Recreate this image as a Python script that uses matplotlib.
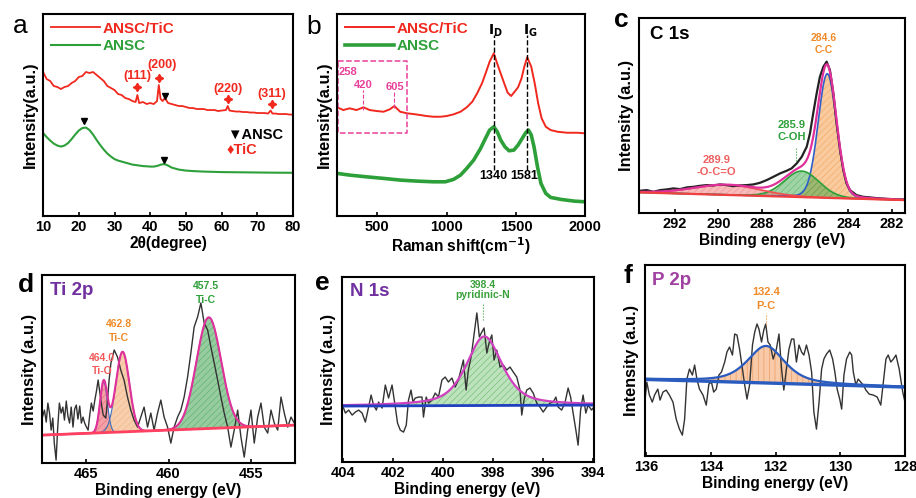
import numpy as np
import matplotlib
matplotlib.use("Agg")
import matplotlib.pyplot as plt

plt.rcParams['font.family'] = ['Liberation Sans', 'DejaVu Sans']
plt.rcParams['font.weight'] = 'bold'
plt.rcParams['hatch.linewidth'] = 0.5
plt.rcParams['mathtext.default'] = 'bf'

# ---------------- (a) XRD ----------------
xrd_tic_x = [10, 11, 12, 13, 14, 15, 16, 17, 18, 19, 20, 21, 22, 23, 24, 25, 26, 27, 28, 29,
             30, 31, 32, 33, 34, 35, 35.9, 36.4, 36.9, 38, 39, 40, 41, 41.9, 42.4, 42.9, 43.5,
             44.1, 45, 46, 47, 48, 49, 50, 51, 52, 53, 54, 55, 56, 57, 58, 59, 60, 61.2, 61.7,
             62.2, 63, 64, 65, 66, 67, 68, 69, 70, 71, 72, 73, 73.7, 74.2, 75, 76, 77, 78, 79, 80]
xrd_tic_y = [144, 137, 135, 130, 129, 127, 129, 130, 133, 135, 139, 140, 144, 143, 144, 141,
             138, 135, 130, 128, 126, 122, 121, 118, 117, 115, 114, 121, 113, 114, 112, 113,
             112, 115, 131, 117, 115, 118, 113, 112, 111, 110, 110, 109, 108, 108, 107, 107,
             107, 106, 106, 106, 105, 105.5, 106, 110, 105.5, 105, 104.5, 104.5, 104, 104,
             103.5, 103.5, 103, 103, 103, 102.5, 105.5, 102.5, 102.5, 102, 102, 102, 101.5, 101.5]
xrd_ansc_x = [10, 11, 12, 13, 14, 15, 16, 17, 18, 19, 20, 21, 22, 23, 24, 25, 26, 27, 28, 29,
              30, 31, 32, 33, 34, 35, 36, 37, 38, 39, 40, 41, 42, 43, 44, 45, 46, 47, 48, 49,
              50, 52, 55, 60, 65, 70, 75, 80]
xrd_ansc_y = [83, 79, 75.5, 72.5, 70.5, 69.5, 70.5, 73, 77, 81.5, 85.5, 88, 88.5, 86, 81.5, 76,
              71, 66.5, 62.5, 59.5, 57, 55.5, 54.5, 53.5, 52.5, 51.5, 51, 50.5, 50, 49.8, 49.5,
              49.5, 50.2, 51.5, 52, 50.5, 48.5, 47.5, 46.5, 46, 45.5, 45, 44.5, 44, 43.8, 43.6,
              43.4, 43.3]
tic_peak_x = [36.4, 42.4, 61.7, 74.0]
tic_peak_y = [128.7, 137.7, 116.7, 111.7]
tic_labels = ["(111)", "(200)", "(220)", "(311)"]
tic_label_x = [36.3, 43.3, 61.7, 74.0]
tic_label_y = [140, 151, 126.7, 121.7]
ansc_peak_x = [44.0, 21.6, 43.8]
ansc_peak_y = [120, 95.3, 56]

# ---------------- (b) Raman ----------------
raman_tic_x = [210, 255, 300, 350, 400, 445, 495, 545, 590, 623, 665, 715, 760, 810, 855, 905,
               955, 1000, 1050, 1100, 1145, 1185, 1220, 1255, 1285, 1310, 1340, 1360, 1385, 1415,
               1440, 1465, 1490, 1515, 1540, 1560, 1581, 1610, 1635, 1660, 1685, 1715, 1750,
               1800, 1870, 1945, 2000]
raman_tic_y = [108.7, 106, 107.7, 106, 108.7, 106, 105, 104.3, 106.7, 110, 104.3, 102.7, 102,
               101, 100, 99.3, 99.3, 100, 101.7, 104.3, 108.7, 114.3, 122.7, 132.7, 144.3, 154.3,
               162.7, 154.3, 144.3, 132.7, 123.3, 120, 124.3, 128.7, 137.7, 149.3, 158.7, 149.3,
               132.7, 112.7, 97.7, 89.3, 86, 84.3, 83.3, 83.3, 82.7]
raman_ansc_x = [210, 300, 420, 545, 665, 785, 905, 990, 1050, 1100, 1145, 1195, 1245, 1280,
                1310, 1340, 1365, 1390, 1420, 1450, 1485, 1515, 1545, 1570, 1590, 1610, 1630,
                1655, 1680, 1715, 1750, 1825, 1920, 2000]
raman_ansc_y = [42.7, 41, 39.3, 37.7, 36, 35, 34.3, 34.3, 36.7, 41, 47.7, 56, 67.7, 77.7, 86,
                89.3, 84.3, 76, 69.3, 65.3, 66, 71, 77.7, 83.3, 86, 81, 69.3, 49.3, 32.7, 22.7,
                18.7, 16.7, 15, 14.3]
raman_bands = [1340, 1581]
tic_raman = ["258", "420", "605"]

# ---------------- (c) C 1s ----------------
c1s_x = [293.65, 293.31, 293.0, 292.69, 292.38, 292.08, 291.77, 291.46, 291.15, 290.85, 290.54,
         290.23, 289.92, 289.62, 289.31, 289.0, 288.69, 288.38, 288.08, 287.77, 287.46, 287.15,
         286.85, 286.62, 286.38, 286.15, 285.92, 285.77, 285.62, 285.46, 285.31, 285.15, 285.0,
         284.85, 284.69, 284.54, 284.38, 284.23, 284.08, 283.92, 283.62, 283.31, 283.0, 282.69,
         282.23, 281.77, 281.38]
c1s_y = [22.3, 23, 21.3, 23, 23.7, 24.7, 24, 25.7, 26.3, 27.3, 28, 27.7, 28.7, 28, 27, 27.7, 28,
         28.7, 30.3, 33, 36.3, 39.7, 42.3, 44.7, 49.7, 56.3, 66.3, 79.7, 99.7, 119.7, 136.3,
         146.3, 151.3, 143, 119.7, 89.7, 63, 43, 29.7, 23, 18, 16.3, 15.7, 15, 14.3, 13.7, 13.7]
c1s_pos = [284.97, 286.15, 289.6]
c1s_amp = [124, 26, 10]
c1s_fwhm = [1.0, 1.9, 3.6]
c1s_names = ["284.6\nC-C", "285.9\nC-OH", "289.9\n-O-C=O"]

# ---------------- (d) Ti 2p ----------------
ti_x = [467.68, 467.56, 467.45, 467.35, 467.25, 467.15, 467.05, 466.96, 466.85, 466.75, 466.65,
        466.54, 466.44, 466.34, 466.23, 466.13, 466.03, 465.93, 465.82, 465.72, 465.62, 465.52,
        465.41, 465.31, 465.21, 465.11, 465.0, 464.90, 464.80, 464.70, 464.59, 464.49, 464.39,
        464.29, 464.18, 464.08, 463.98, 463.82, 463.72, 463.62, 463.51, 463.31, 463.11, 462.91,
        462.71, 462.50, 462.30, 462.10, 461.89, 461.69, 461.49, 461.28, 461.08, 460.88, 460.67,
        460.47, 460.27, 460.06, 459.86, 459.66, 459.45, 459.25, 459.05, 458.84, 458.64, 458.44,
        458.23, 458.03, 457.83, 457.62, 457.42, 457.22, 457.01, 456.81, 456.61, 456.40, 456.20,
        456.00, 455.79, 455.59, 455.39, 455.18, 454.98, 454.78, 454.57, 454.37, 454.17, 453.96,
        453.76, 453.56, 453.35, 453.15, 452.95, 452.74, 452.54, 452.34]
ti_y = [46, 53, 41, 60, 50, 33, 45, 20, 3, 36, 60, 50, 56, 43, 62, 47, 40, 56, 36, 54, 58, 44,
        57, 40, 46, 40, 36, 33, 48, 60, 52, 63, 72, 83, 70, 58, 48, 45, 63, 83, 100, 113, 106,
        93, 83, 66, 53, 43, 36, 46, 56, 36, 50, 33, 50, 63, 46, 36, 20, 36, 46, 53, 66, 86, 110,
        136, 146, 160, 140, 133, 116, 100, 83, 66, 50, 36, 16, 33, 53, 26, 6, 33, 53, 20, 46,
        60, 36, 30, 53, 40, 33, 66, 50, 36, 46, 40]
ti_pos = [463.95, 462.8, 457.55]
ti_amp = [51, 80, 111]
ti_fwhm = [0.52, 0.97, 1.77]
ti_names = ["464.0\nTi-O", "462.8\nTi-C", "457.5\nTi-C"]

# ---------------- (e) N 1s ----------------
n_x = [404.04, 403.92, 403.79, 403.65, 403.52, 403.39, 403.25, 403.12, 402.99, 402.89, 402.79,
       402.68, 402.59, 402.45, 402.32, 402.19, 402.05, 401.92, 401.83, 401.72, 401.59, 401.48,
       401.39, 401.29, 401.21, 401.12, 400.99, 400.85, 400.79, 400.68, 400.59, 400.45, 400.32,
       400.19, 400.05, 399.92, 399.79, 399.65, 399.52, 399.39, 399.29, 399.19, 399.08, 398.99,
       398.88, 398.79, 398.65, 398.55, 398.45, 398.36, 398.25, 398.15, 398.05, 397.96, 397.85,
       397.72, 397.59, 397.45, 397.32, 397.19, 397.05, 396.92, 396.85, 396.76, 396.65, 396.52,
       396.39, 396.25, 396.12, 395.99, 395.85, 395.72, 395.59, 395.48, 395.39, 395.25, 395.12,
       394.99, 394.89, 394.79, 394.68, 394.59, 394.49, 394.39, 394.28, 394.19, 394.05, 393.96]
n_y = [57, 49, 52, 47, 50, 52, 49, 40, 55, 67, 57, 52, 60, 54, 77, 64, 77, 55, 39, 32, 30, 37,
       62, 72, 60, 64, 65, 65, 45, 65, 59, 62, 69, 65, 82, 85, 80, 84, 75, 82, 92, 102, 72, 92,
       105, 122, 149, 125, 130, 134, 109, 120, 127, 102, 112, 95, 97, 92, 95, 90, 85, 72, 47,
       62, 72, 74, 69, 59, 55, 50, 55, 59, 60, 65, 55, 52, 59, 74, 65, 49, 32, 17, 52, 67, 49,
       57, 52, 55]
n_pos = 398.35
n_amp = 69
n_fwhm = 1.7

# ---------------- (f) P 2p ----------------
p_x = [136.06, 135.99, 135.91, 135.82, 135.75, 135.65, 135.58, 135.49, 135.39, 135.29, 135.18,
       135.08, 134.98, 134.89, 134.82, 134.75, 134.67, 134.58, 134.51, 134.44, 134.36, 134.25,
       134.15, 134.07, 133.99, 133.92, 133.84, 133.76, 133.68, 133.58, 133.51, 133.43, 133.34,
       133.27, 133.20, 133.12, 133.03, 132.96, 132.89, 132.81, 132.72, 132.65, 132.58, 132.52,
       132.44, 132.37, 132.31, 132.24, 132.17, 132.08, 131.98, 131.90, 131.82, 131.75, 131.67,
       131.59, 131.51, 131.44, 131.36, 131.28, 131.20, 131.13, 131.05, 130.97, 130.89, 130.82,
       130.74, 130.66, 130.58, 130.51, 130.43, 130.33, 130.24, 130.17, 130.10, 130.02, 129.96,
       129.89, 129.81, 129.71, 129.65, 129.60, 129.52, 129.45, 129.37, 129.29, 129.21, 129.11,
       128.98, 128.86, 128.75, 128.67, 128.59, 128.52, 128.44, 128.36, 128.28, 128.18, 128.07,
       128.00]
p_y = [51, 74, 61, 54, 61, 67, 56, 64, 66, 61, 54, 37, 27, 21, 37, 77, 87, 81, 91, 77, 67, 61,
       51, 72, 74, 64, 67, 81, 84, 94, 104, 109, 101, 122, 121, 107, 87, 71, 57, 71, 111, 124,
       132, 127, 114, 126, 132, 114, 111, 97, 107, 122, 87, 66, 87, 107, 117, 117, 94, 111,
       104, 101, 111, 101, 84, 44, 27, 54, 87, 97, 102, 106, 97, 84, 67, 57, 47, 81, 97, 104,
       101, 84, 71, 77, 74, 71, 66, 62, 61, 59, 51, 74, 97, 101, 94, 97, 101, 87, 64, 54]
p_pos = 132.3
p_amp = 37
p_fwhm = 1.36

RED = '#f0281e'
GREEN = '#2ea03a'
PINK = '#e8409a'
MAG = '#e0309a'
ORANGE = '#f08a28'
PURPLE = '#7030a0'


def peak(x, c, a, w, eta=0.0):
    g = np.exp(-4 * np.log(2) * ((x - c) / w) ** 2)
    lo = 1 / (1 + 4 * ((x - c) / w) ** 2)
    return a * (eta * lo + (1 - eta) * g)


def style(ax, xlim, ylim, xticks, xlabel, ylabel="Intensity (a.u.)"):
    ax.set_xlim(*xlim)
    ax.set_ylim(*ylim)
    ax.set_xticks(xticks)
    ax.set_yticks([])
    ax.tick_params(axis='x', direction='in', length=3, width=1.2, labelsize=10.5, pad=3)
    for lab in ax.get_xticklabels():
        lab.set_fontweight('bold')
    for s in ax.spines.values():
        s.set_linewidth(1.5)
    ax.set_xlabel(xlabel, fontsize=11.2, fontweight='bold', labelpad=1)
    ax.set_ylabel(ylabel, fontsize=11.8, fontweight='bold', labelpad=4)


fig = plt.figure(figsize=(9.16, 4.98), dpi=100)
ax_a = fig.add_axes([0.047, 0.566, 0.273, 0.406])
ax_b = fig.add_axes([0.368, 0.566, 0.271, 0.406])
ax_c = fig.add_axes([0.698, 0.572, 0.290, 0.392])
ax_d = fig.add_axes([0.046, 0.070, 0.276, 0.378])
ax_e = fig.add_axes([0.373, 0.072, 0.275, 0.372])
ax_f = fig.add_axes([0.704, 0.084, 0.284, 0.384])

leg_kw = dict(loc='upper left', frameon=False, handlelength=3.2, handletextpad=0.2,
              borderaxespad=0.1, labelspacing=0.25, labelcolor='linecolor',
              prop={'weight': 'bold', 'size': 11})

# (a)
ax = ax_a
ax.plot(xrd_tic_x, xrd_tic_y, color=RED, lw=1.3, label="ANSC/TiC")
ax.plot(xrd_ansc_x, xrd_ansc_y, color=GREEN, lw=1.5, label="ANSC")
ax.plot(tic_peak_x, tic_peak_y, ls='none', marker=(4, 1, 0), ms=6, color=RED)
ax.plot(ansc_peak_x, ansc_peak_y, ls='none', marker='v', ms=4.5, color='black')
for lx, ly, t in zip(tic_label_x, tic_label_y, tic_labels):
    ax.text(lx, ly, t, color=RED, fontsize=9, ha='center', va='center', fontweight='bold')
ax.text(61.5, 81, "▼ANSC", color='black', fontsize=10.5, ha='left', va='center', fontweight='bold')
ax.text(61.5, 66, "♦TiC", color=RED, fontsize=10.5, ha='left', va='center', fontweight='bold')
style(ax, (10, 80), (0, 202), range(10, 81, 10), "2θ(degree)", "Intensity(a.u.)")
ax.legend(**leg_kw)

# (b)
ax = ax_b
ax.plot(raman_tic_x, raman_tic_y, color=RED, lw=1.4, label="ANSC/TiC")
ax.plot(raman_ansc_x, raman_ansc_y, color=GREEN, lw=2.6, label="ANSC")
for bx in raman_bands:
    ax.plot([bx, bx], [46, 181], color='black', ls='--', lw=1)
ax.text(1348, 185, "$\\mathbf{I_D}$", fontsize=10, ha='center', va='center')
ax.text(1601, 185, "$\\mathbf{I_G}$", fontsize=10, ha='center', va='center')
ax.text(1333, 40, "1340", fontsize=9, ha='center', va='center', fontweight='bold')
ax.text(1560, 40, "1581", fontsize=9, ha='center', va='center', fontweight='bold')
ax.plot([215, 717, 717, 215, 215], [155, 155, 83, 83, 155], color=PINK, ls='--', lw=1.1)
ax.plot([400, 400], [106, 126], color=PINK, ls='--', lw=0.8)
ax.plot([620, 620], [108, 124], color=PINK, ls='--', lw=0.8)
for lx, ly, t in zip([290, 399, 628], [144, 131, 129], tic_raman):
    ax.text(lx, ly, t, color=PINK, fontsize=8, ha='center', va='center', fontweight='bold')
style(ax, (210, 2000), (0, 202), [500, 1000, 1500, 2000],
      "Raman shift(cm$^{\\mathbf{-1}}$)", "Intensity(a.u.)")
ax.legend(**leg_kw)

# (c)
ax = ax_c
xc = np.linspace(293.65, 281.38, 500)
bg_c = np.interp(xc, [281.38, 293.65], [13, 20.7])
comp_cols = [ORANGE, GREEN, '#f06a6a']
line_cols = ['#3060c8', GREEN, '#f05050']
env = bg_c.copy()
for c0, a0, w0, fc, lc in zip(c1s_pos, c1s_amp, c1s_fwhm, comp_cols, line_cols):
    yk = peak(xc, c0, a0, w0, 0.1)
    env += yk
    ax.fill_between(xc, bg_c, bg_c + yk, facecolor=fc, alpha=0.45, edgecolor=fc,
                    hatch='/////', linewidth=0)
    ax.plot(xc, bg_c + yk, color=lc, lw=1.2)
ax.plot(c1s_x, c1s_y, color='#222222', lw=1.6)
ax.plot(xc, env, color=MAG, lw=1.6)
ax.plot(xc, bg_c, color='#f04040', lw=1.6)
ax.text(285.15, 169, c1s_names[0], color=ORANGE, fontsize=7.5, ha='center', va='center',
        linespacing=1.3)
ax.text(286.6, 82, c1s_names[1], color=GREEN, fontsize=8, ha='center', va='center',
        linespacing=1.2)
ax.text(290.1, 47, c1s_names[2], color='#f06060', fontsize=8, ha='center', va='center',
        linespacing=1.3)
ax.plot([286.4, 286.4], [52, 66], color=GREEN, ls=':', lw=0.8)
ax.text(0.04, 0.915, "C 1s", transform=ax.transAxes, fontsize=13.5, fontweight='bold',
        ha='left', va='center')
style(ax, (293.65, 281.38), (0, 195), range(292, 281, -2), "Binding energy (eV)")

# (d)
ax = ax_d
xd = np.linspace(467.7, 452.3, 600)
bg_d = np.interp(xd, [452.3, 467.7], [38, 28])
ti_fill = ['#e84450', '#f0a060', '#2e9a40']
env = bg_d.copy()
for c0, a0, w0, fc in zip(ti_pos, ti_amp, ti_fwhm, ti_fill):
    yk = peak(xd, c0, a0, w0)
    env += yk
    ax.fill_between(xd, bg_d, bg_d + yk, facecolor=fc, alpha=0.5, edgecolor=fc,
                    hatch='/////', linewidth=0)
    ax.plot(xd, bg_d + yk, color='#3a70c0', lw=0.8)
ax.plot(ti_x, ti_y, color='#333333', lw=1.0)
ax.plot(xd, env, color=MAG, lw=1.5)
ax.plot(xd, bg_d, color='#ff4060', lw=2)
ax.text(464.05, 98.5, ti_names[0], color='#f05a5a', fontsize=7.5, ha='center', va='center',
        linespacing=1.4)
ax.text(463.0, 132, ti_names[1], color=ORANGE, fontsize=7.5, ha='center', va='center',
        linespacing=1.4)
ax.text(457.7, 170, ti_names[2], color=GREEN, fontsize=7.5, ha='center', va='center',
        linespacing=1.4)
ax.text(0.032, 0.915, "Ti 2p", transform=ax.transAxes, fontsize=13.5, fontweight='bold',
        color=PURPLE, ha='left', va='center')
style(ax, (467.7, 452.3), (0, 188), [465, 460, 455], "Binding energy (eV)")

# (e)
ax = ax_e
xe = np.linspace(404.1, 393.9, 500)
bg_e = np.interp(xe, [393.9, 404.1], [57, 56])
yk = peak(xe, n_pos, n_amp, n_fwhm, 0.6)
ax.fill_between(xe, bg_e, bg_e + yk, facecolor='#7cc87c', alpha=0.5, edgecolor='#3a9a3a',
                hatch='/////', linewidth=0)
ax.plot(n_x, n_y, color='#333333', lw=1.0)
ax.plot(xe, bg_e + yk, color='#d040c0', lw=1.6)
ax.plot(xe, bg_e, color='#2040c0', lw=2)
ax.text(398.4, 171.5, "398.4\npyridinic-N", color='#3aa03a', fontsize=7.5, ha='center',
        va='center', linespacing=1.0)
ax.plot([398.4, 398.4], [142, 159], color='#3aa03a', ls=':', lw=0.8)
ax.text(0.032, 0.919, "N 1s", transform=ax.transAxes, fontsize=13.5, fontweight='bold',
        color=PURPLE, ha='left', va='center')
style(ax, (404.07, 393.97), (0, 185), range(404, 393, -2), "Binding energy (eV)")

# (f)
ax = ax_f
xf = np.linspace(136.1, 128.0, 500)
bg_f = np.interp(xf, [128.0, 136.1], [69, 76.7])
yk = peak(xf, p_pos, p_amp, p_fwhm, 0.6)
ax.fill_between(xf, bg_f, bg_f + yk, facecolor='#f4a060', alpha=0.55, edgecolor='#e07830',
                hatch='|||', linewidth=0)
ax.plot(p_x, p_y, color='#333333', lw=1.0)
ax.plot(xf, bg_f + yk, color='#2a5cc0', lw=1.6)
ax.plot(xf, bg_f, color='#2a5cc0', lw=2.4)
ax.text(132.3, 157, "132.4\nP-C", color=ORANGE, fontsize=8, ha='center', va='center',
        linespacing=1.6)
ax.plot([132.3, 132.3], [131, 143], color=ORANGE, ls=':', lw=0.8)
ax.text(0.027, 0.916, "P 2p", transform=ax.transAxes, fontsize=13.5, fontweight='bold',
        color='#a040a0', ha='left', va='center')
style(ax, (136.05, 128.0), (0, 191), range(136, 127, -2), "Binding energy (eV)")

# panel letters
for (px, py), letter, wt in zip([(20, 26), (314, 27), (621, 20), (26, 285), (322, 283),
                                  (628, 276)], "abcdef",
                                 ['normal', 'normal', 'bold', 'bold', 'bold', 'bold']):
    fig.text(px / 916, 1 - py / 498, letter, fontsize=19, fontweight=wt,
             ha='center', va='center')

fig.savefig("out.png", dpi=100)
